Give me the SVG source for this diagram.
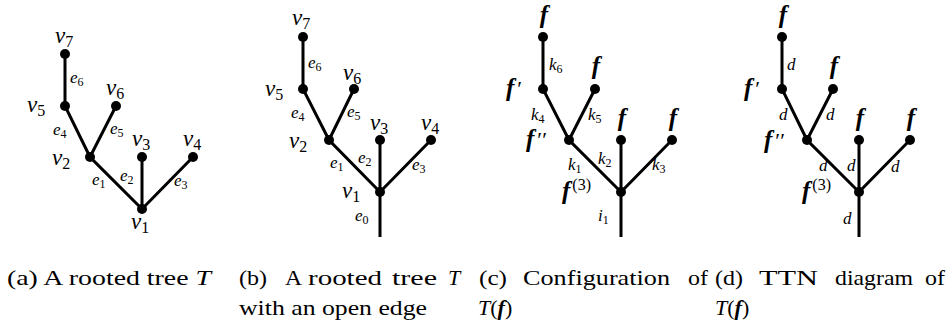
<svg xmlns="http://www.w3.org/2000/svg" width="950" height="324" viewBox="0 0 950 324">
<style>
.e{stroke:#000;stroke-width:3;fill:none}
.n{fill:#000}
text{font-family:"Liberation Serif","Times New Roman",Times,serif;fill:#000}
.v{font-style:italic;font-size:23px}
.el{font-style:italic;font-size:17px}
.sub{font-size:12px;font-style:normal}
.vsub{font-size:16px;font-style:normal}
.f{font-style:italic;font-weight:bold;font-size:25px}
.sup{font-size:16px;font-style:normal;font-weight:normal}
.pr{font-style:normal;font-weight:normal;font-size:22px}
.cap{font-size:22px}
.it{font-style:italic}
.bi{font-style:italic;font-weight:bold}
</style>
<g id="connectors">
<path class="e" d="M65,54V106L90,157L142,209M116,106L90,157M142,157V209M193,157L142,209"/>
<path class="e" d="M303,37V89L329,140L380,192M354,89L329,140M380,140V237M431,140L380,192"/>
<path class="e" d="M543,37V89L569,140L621,192M595,89L569,140M621,140V237M672,140L621,192"/>
<path class="e" d="M782,37V89L807,140L859,192M833,89L807,140M859,140V237M910,140L859,192"/>
</g>
<g id="tree-a">
<g id="a-v7"><circle class="n" cx="65" cy="54" r="5"/><text class="v" x="55" y="43">v<tspan class="vsub" dy="4">7</tspan></text></g>
<g id="a-v5"><circle class="n" cx="65" cy="106" r="5"/><text class="v" x="27" y="112">v<tspan class="vsub" dy="4">5</tspan></text></g>
<g id="a-v6"><circle class="n" cx="116" cy="106" r="5"/><text class="v" x="106" y="95">v<tspan class="vsub" dy="4">6</tspan></text></g>
<g id="a-v2"><circle class="n" cx="90" cy="157" r="5"/><text class="v" x="52" y="165">v<tspan class="vsub" dy="4">2</tspan></text></g>
<g id="a-v3"><circle class="n" cx="142" cy="157" r="5"/><text class="v" x="132" y="146">v<tspan class="vsub" dy="4">3</tspan></text></g>
<g id="a-v4"><circle class="n" cx="193" cy="157" r="5"/><text class="v" x="183" y="146">v<tspan class="vsub" dy="4">4</tspan></text></g>
<g id="a-v1"><circle class="n" cx="142" cy="209" r="5"/><text class="v" x="131" y="229">v<tspan class="vsub" dy="4">1</tspan></text></g>
<g id="a-edges">
<text class="el" x="70" y="83">e<tspan class="sub" dy="3">6</tspan></text>
<text class="el" x="53" y="135">e<tspan class="sub" dy="3">4</tspan></text>
<text class="el" x="110" y="134">e<tspan class="sub" dy="3">5</tspan></text>
<text class="el" x="92" y="185">e<tspan class="sub" dy="3">1</tspan></text>
<text class="el" x="120" y="181">e<tspan class="sub" dy="3">2</tspan></text>
<text class="el" x="174" y="186">e<tspan class="sub" dy="3">3</tspan></text>
</g>
</g>
<g id="tree-b">
<g id="b-v7"><circle class="n" cx="303" cy="37" r="5"/><text class="v" x="292" y="25">v<tspan class="vsub" dy="4">7</tspan></text></g>
<g id="b-v5"><circle class="n" cx="303" cy="89" r="5"/><text class="v" x="265" y="96">v<tspan class="vsub" dy="4">5</tspan></text></g>
<g id="b-v6"><circle class="n" cx="354" cy="89" r="5"/><text class="v" x="343" y="80">v<tspan class="vsub" dy="4">6</tspan></text></g>
<g id="b-v2"><circle class="n" cx="329" cy="140" r="5"/><text class="v" x="289" y="148">v<tspan class="vsub" dy="4">2</tspan></text></g>
<g id="b-v3"><circle class="n" cx="380" cy="140" r="5"/><text class="v" x="370" y="130">v<tspan class="vsub" dy="4">3</tspan></text></g>
<g id="b-v4"><circle class="n" cx="431" cy="140" r="5"/><text class="v" x="421" y="130">v<tspan class="vsub" dy="4">4</tspan></text></g>
<g id="b-v1"><circle class="n" cx="380" cy="192" r="5"/><text class="v" x="342" y="198">v<tspan class="vsub" dy="4">1</tspan></text></g>
<g id="b-edges">
<text class="el" x="355" y="221">e<tspan class="sub" dy="3">0</tspan></text>
<text class="el" x="308" y="68">e<tspan class="sub" dy="3">6</tspan></text>
<text class="el" x="291" y="118">e<tspan class="sub" dy="3">4</tspan></text>
<text class="el" x="347" y="117">e<tspan class="sub" dy="3">5</tspan></text>
<text class="el" x="330" y="168">e<tspan class="sub" dy="3">1</tspan></text>
<text class="el" x="358" y="163">e<tspan class="sub" dy="3">2</tspan></text>
<text class="el" x="412" y="170">e<tspan class="sub" dy="3">3</tspan></text>
</g>
</g>
<g id="tree-c">
<g id="c-n7"><circle class="n" cx="543" cy="37" r="5"/><text class="f" x="544" y="23" text-anchor="middle">f</text></g>
<g id="c-n5"><circle class="n" cx="543" cy="89" r="5"/><text class="f" x="506" y="96">f<tspan class="pr" dx="3">′</tspan></text></g>
<g id="c-n6"><circle class="n" cx="595" cy="89" r="5"/><text class="f" x="596" y="74" text-anchor="middle">f</text></g>
<g id="c-n2"><circle class="n" cx="569" cy="140" r="5"/><text class="f" x="526" y="147">f<tspan class="pr" dx="3">′′</tspan></text></g>
<g id="c-n3"><circle class="n" cx="621" cy="140" r="5"/><text class="f" x="622" y="126" text-anchor="middle">f</text></g>
<g id="c-n4"><circle class="n" cx="672" cy="140" r="5"/><text class="f" x="673" y="126" text-anchor="middle">f</text></g>
<g id="c-n1"><circle class="n" cx="621" cy="192" r="5"/><text class="f" x="562" y="199">f<tspan class="sup" dx="2" dy="-9">(3)</tspan></text></g>
<g id="c-edges">
<text class="el" x="549" y="70">k<tspan class="sub" dy="3">6</tspan></text>
<text class="el" x="531" y="120">k<tspan class="sub" dy="3">4</tspan></text>
<text class="el" x="588" y="120">k<tspan class="sub" dy="3">5</tspan></text>
<text class="el" x="568" y="170">k<tspan class="sub" dy="3">1</tspan></text>
<text class="el" x="598" y="164">k<tspan class="sub" dy="3">2</tspan></text>
<text class="el" x="652" y="170">k<tspan class="sub" dy="3">3</tspan></text>
<text class="el" x="598" y="221">i<tspan class="sub" dy="3">1</tspan></text>
</g>
</g>
<g id="tree-d">
<g id="d-n7"><circle class="n" cx="782" cy="37" r="5"/><text class="f" x="783" y="23" text-anchor="middle">f</text></g>
<g id="d-n5"><circle class="n" cx="782" cy="89" r="5"/><text class="f" x="744" y="96">f<tspan class="pr" dx="3">′</tspan></text></g>
<g id="d-n6"><circle class="n" cx="833" cy="89" r="5"/><text class="f" x="834" y="74" text-anchor="middle">f</text></g>
<g id="d-n2"><circle class="n" cx="807" cy="140" r="5"/><text class="f" x="764" y="148">f<tspan class="pr" dx="3">′′</tspan></text></g>
<g id="d-n3"><circle class="n" cx="859" cy="140" r="5"/><text class="f" x="860" y="126" text-anchor="middle">f</text></g>
<g id="d-n4"><circle class="n" cx="910" cy="140" r="5"/><text class="f" x="911" y="126" text-anchor="middle">f</text></g>
<g id="d-n1"><circle class="n" cx="859" cy="192" r="5"/><text class="f" x="802" y="199">f<tspan class="sup" dx="2" dy="-9">(3)</tspan></text></g>
<g id="d-edges">
<text class="el" x="787" y="70">d</text>
<text class="el" x="779" y="120">d</text>
<text class="el" x="826" y="120">d</text>
<text class="el" x="819" y="171">d</text>
<text class="el" x="847" y="171">d</text>
<text class="el" x="891" y="172">d</text>
<text class="el" x="843" y="224">d</text>
</g>
</g>
<g id="captions">
<text class="cap" x="7" y="285" textLength="204" lengthAdjust="spacingAndGlyphs">(a) A rooted tree <tspan class="it">T</tspan></text>
<text class="cap" y="285"><tspan x="239" textLength="28" lengthAdjust="spacingAndGlyphs">(b)</tspan><tspan x="285" textLength="17" lengthAdjust="spacingAndGlyphs">A</tspan><tspan x="308" textLength="74" lengthAdjust="spacingAndGlyphs">rooted</tspan><tspan x="392" textLength="45" lengthAdjust="spacingAndGlyphs">tree</tspan><tspan class="it" x="448">T</tspan></text>
<text class="cap" x="239" y="315" textLength="188" lengthAdjust="spacingAndGlyphs">with an open edge</text>
<text class="cap" y="285"><tspan x="479" textLength="28" lengthAdjust="spacingAndGlyphs">(c)</tspan><tspan x="523" textLength="147" lengthAdjust="spacingAndGlyphs">Configuration</tspan><tspan x="688" textLength="20" lengthAdjust="spacingAndGlyphs">of</tspan></text>
<text class="cap" x="478" y="315"><tspan class="it">T</tspan>(<tspan class="bi">f</tspan>)</text>
<text class="cap" y="285"><tspan x="715" textLength="28" lengthAdjust="spacingAndGlyphs">(d)</tspan><tspan x="759" textLength="59" lengthAdjust="spacingAndGlyphs">TTN</tspan><tspan x="835" textLength="78" lengthAdjust="spacingAndGlyphs">diagram</tspan><tspan x="925" textLength="20" lengthAdjust="spacingAndGlyphs">of</tspan></text>
<text class="cap" x="715" y="315"><tspan class="it">T</tspan>(<tspan class="bi">f</tspan>)</text>
</g>
</svg>
